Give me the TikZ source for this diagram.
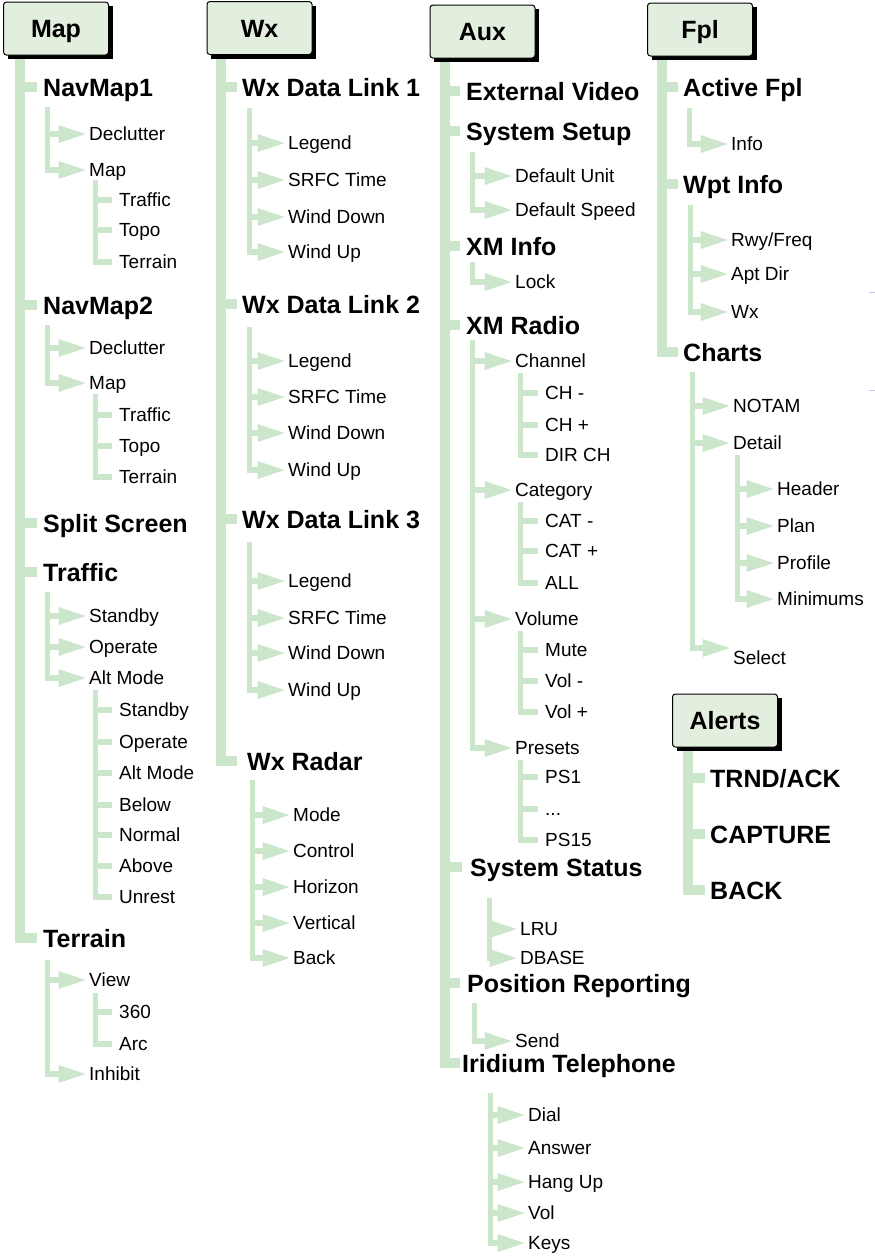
\documentclass[tikz,border=0pt]{standalone}
\usepackage{fontspec}
\setmainfont{Liberation Sans}
\definecolor{grn}{RGB}{204,230,204}
\definecolor{boxfill}{RGB}{226,238,222}
\definecolor{artc}{RGB}{185,205,230}
\tikzset{
  trunk/.style={draw=grn, line cap=butt, line width=10pt},
  spine/.style={draw=grn, line cap=butt, line width=5pt},
  barline/.style={draw=grn, line cap=butt, line width=6pt},
  mainlbl/.style={anchor=west, inner sep=0pt, text height=18pt, text depth=0pt, font=\bfseries\fontsize{25}{30}\selectfont},
  sublbl/.style={anchor=west, inner sep=0pt, text height=13.6pt, text depth=0pt, font=\fontsize{19}{23}\selectfont},
  hdrbox/.style={draw=black, line width=1pt, fill=boxfill, rounded corners=3pt, minimum width=105pt, minimum height=53pt, inner sep=0pt, text height=18pt, text depth=0pt, font=\bfseries\fontsize{25}{30}\selectfont},
}
% main item: name, trunk x, y, stub end x, text x, text
\newcommand\mitem[6]{%
  \node[mainlbl] (#1) at (#5,#3) {#6};
  \draw[trunk] ({#2-5},#3) -- ([xshift={#4-#5}]#1.west);}
% arrow item: name, spine x, y, text x, text
\newcommand\aitem[5]{%
  \node[sublbl] (#1) at (#4,#3) {#5};
  \draw[barline] ({#2-2.5},#3) -- ([xshift=-30pt]#1.west);
  \fill[grn] ([xshift=-3.5pt]#1.west) -- ++(-27,-9) -- ++(0,18) -- cycle;}
% stub item: name, spine x, y, text x, text
\newcommand\sitem[5]{%
  \node[sublbl] (#1) at (#4,#3) {#5};
  \draw[barline] ({#2-2.5},#3) -- ([xshift=-7pt]#1.west);}
% header box: name, cx, cy, text
\newcommand\hdr[4]{%
  \fill[black] ({#2-48.5},{#3-22.5}) rectangle ({#2+56.5},{#3+30.5});
  \node[hdrbox] (#1) at (#2,#3) {#4};}
\begin{document}
\begin{tikzpicture}[x=1pt,y=-1pt]
\useasboundingbox (0,0) rectangle (875,1256);
\fill[white] (0,0) rectangle (875,1256);

% ================= Map column =================
\mitem{mNav1}{20}{87}{37}{43}{NavMap1}
\aitem{m1Dec}{47.5}{134}{89}{Declutter}
\aitem{m1Map}{47.5}{170}{89}{Map}
\sitem{m1Tra}{95.5}{200}{119}{Traffic}
\sitem{m1Top}{95.5}{230}{119}{Topo}
\sitem{m1Ter}{95.5}{262}{119}{Terrain}
\draw[spine] (47.5,107) -- (47.5,0 |- m1Map.west);
\draw[spine] (95.5,180) -- (95.5,0 |- m1Ter.west);

\mitem{mNav2}{20}{305}{37}{43}{NavMap2}
\aitem{m2Dec}{47.5}{348}{89}{Declutter}
\aitem{m2Map}{47.5}{383}{89}{Map}
\sitem{m2Tra}{95.5}{415}{119}{Traffic}
\sitem{m2Top}{95.5}{446}{119}{Topo}
\sitem{m2Ter}{95.5}{477}{119}{Terrain}
\draw[spine] (47.5,325) -- (47.5,0 |- m2Map.west);
\draw[spine] (95.5,394) -- (95.5,0 |- m2Ter.west);

\mitem{mSplit}{20}{523}{37}{43}{Split Screen}
\mitem{mTraf}{20}{572}{37}{43}{Traffic}
\aitem{mtSb}{47.5}{616}{89}{Standby}
\aitem{mtOp}{47.5}{647}{89}{Operate}
\aitem{mtAlt}{47.5}{678}{89}{Alt Mode}
\draw[spine] (47.5,592) -- (47.5,0 |- mtAlt.west);
\sitem{maSb}{95.5}{710}{119}{Standby}
\sitem{maOp}{95.5}{742}{119}{Operate}
\sitem{maAlt}{95.5}{773}{119}{Alt Mode}
\sitem{maBel}{95.5}{805}{119}{Below}
\sitem{maNor}{95.5}{835}{119}{Normal}
\sitem{maAbo}{95.5}{866}{119}{Above}
\sitem{maUnr}{95.5}{897}{119}{Unrest}
\draw[spine] (95.5,690) -- (95.5,0 |- maUnr.west);

\mitem{mTerr}{20}{938}{37}{43}{Terrain}
\aitem{mtView}{47.5}{980}{89}{View}
\aitem{mtInh}{47.5}{1074}{89}{Inhibit}
\draw[spine] (47.5,960) -- (47.5,0 |- mtInh.west);
\sitem{mv360}{95.5}{1012}{119}{360}
\sitem{mvArc}{95.5}{1044}{119}{Arc}
\draw[spine] (95.5,993) -- (95.5,0 |- mvArc.west);

\coordinate (mapT) at (20,55);
\draw[trunk] (mapT) -- (mapT |- mTerr.west);

% ================= Wx column =================
\mitem{w1}{221}{87}{237}{242}{Wx Data Link 1}
\aitem{w1a}{249.5}{143}{288}{Legend}
\aitem{w1b}{249.5}{180}{288}{SRFC Time}
\aitem{w1c}{249.5}{217}{288}{Wind Down}
\aitem{w1d}{249.5}{252}{288}{Wind Up}
\draw[spine] (249.5,108) -- (249.5,0 |- w1d.west);

\mitem{w2}{221}{304}{237}{242}{Wx Data Link 2}
\aitem{w2a}{249.5}{361}{288}{Legend}
\aitem{w2b}{249.5}{397}{288}{SRFC Time}
\aitem{w2c}{249.5}{433}{288}{Wind Down}
\aitem{w2d}{249.5}{470}{288}{Wind Up}
\draw[spine] (249.5,327) -- (249.5,0 |- w2d.west);

\mitem{w3}{221}{519}{237}{242}{Wx Data Link 3}
\aitem{w3a}{249.5}{581}{288}{Legend}
\aitem{w3b}{249.5}{618}{288}{SRFC Time}
\aitem{w3c}{249.5}{653}{288}{Wind Down}
\aitem{w3d}{249.5}{690}{288}{Wind Up}
\draw[spine] (249.5,542) -- (249.5,0 |- w3d.west);

\mitem{wR}{221}{761}{237}{247}{Wx Radar}
\aitem{wRa}{252.5}{815}{293}{Mode}
\aitem{wRb}{252.5}{851}{293}{Control}
\aitem{wRc}{252.5}{887}{293}{Horizon}
\aitem{wRd}{252.5}{923}{293}{Vertical}
\aitem{wRe}{252.5}{958}{293}{Back}
\draw[spine] (252.5,780) -- (252.5,0 |- wRe.west);

\coordinate (wxT) at (221,54);
\draw[trunk] (wxT) -- (wxT |- wR.west);

% ================= Aux column =================
\mitem{aExt}{445}{91}{460}{466}{External Video}
\mitem{aSys}{445}{131}{460}{466}{System Setup}
\aitem{aSysU}{472.5}{176}{515}{Default Unit}
\aitem{aSysS}{472.5}{210}{515}{Default Speed}
\draw[spine] (472.5,152) -- (472.5,0 |- aSysS.west);
\mitem{aXMI}{445}{246}{460}{466}{XM Info}
\aitem{aLock}{472.5}{282}{515}{Lock}
\draw[spine] (472.5,262) -- (472.5,0 |- aLock.west);
\mitem{aXMR}{445}{325}{460}{466}{XM Radio}
\aitem{aCh}{472.5}{361}{515}{Channel}
\sitem{aCh1}{520.5}{393}{545}{CH -}
\sitem{aCh2}{520.5}{425}{545}{CH +}
\sitem{aCh3}{520.5}{455}{545}{DIR CH}
\draw[spine] (520.5,373) -- (520.5,0 |- aCh3.west);
\aitem{aCat}{472.5}{490}{515}{Category}
\sitem{aCa1}{520.5}{521}{545}{CAT -}
\sitem{aCa2}{520.5}{551}{545}{CAT +}
\sitem{aCa3}{520.5}{583}{545}{ALL}
\draw[spine] (520.5,502) -- (520.5,0 |- aCa3.west);
\aitem{aVol}{472.5}{619}{515}{Volume}
\sitem{aVo1}{520.5}{650}{545}{Mute}
\sitem{aVo2}{520.5}{681}{545}{Vol -}
\sitem{aVo3}{520.5}{712}{545}{Vol +}
\draw[spine] (520.5,631) -- (520.5,0 |- aVo3.west);
\aitem{aPre}{472.5}{748}{515}{Presets}
\sitem{aPs1}{520.5}{777}{545}{PS1}
\sitem{aPs2}{520.5}{809}{545}{...}
\sitem{aPs3}{520.5}{840}{545}{PS15}
\draw[spine] (520.5,760) -- (520.5,0 |- aPs3.west);
\draw[spine] (472.5,340) -- (472.5,0 |- aPre.west);

\mitem{aStat}{445}{867}{462}{470}{System Status}
\aitem{aLRU}{489.5}{929}{520}{LRU}
\aitem{aDB}{489.5}{958}{520}{DBASE}
\draw[spine] (489.5,898) -- (489.5,0 |- aDB.west);

\mitem{aPos}{445}{983}{460}{467}{Position Reporting}
\aitem{aSend}{474.5}{1041}{515}{Send}
\draw[spine] (474.5,1003) -- (474.5,0 |- aSend.west);

\mitem{aIri}{445}{1063}{460}{462}{Iridium Telephone}
\aitem{aDial}{490.5}{1115}{528}{Dial}
\aitem{aAns}{490.5}{1148}{528}{Answer}
\aitem{aHang}{490.5}{1182}{528}{Hang Up}
\aitem{aVl}{490.5}{1213}{528}{Vol}
\aitem{aKeys}{490.5}{1243}{528}{Keys}
\draw[spine] (490.5,1093) -- (490.5,0 |- aKeys.west);

\coordinate (auxT) at (445,58);
\draw[trunk] (auxT) -- (auxT |- aIri.west);

% ================= Fpl column =================
\mitem{fAct}{662}{87}{678}{683}{Active Fpl}
\aitem{fInfo}{689.5}{144}{731}{Info}
\draw[spine] (689.5,108) -- (689.5,0 |- fInfo.west);
\mitem{fWpt}{662}{184}{678}{683}{Wpt Info}
\aitem{fRwy}{690.5}{240}{731}{Rwy/Freq}
\aitem{fApt}{690.5}{274}{731}{Apt Dir}
\aitem{fWx}{690.5}{312}{731}{Wx}
\draw[spine] (690.5,205) -- (690.5,0 |- fWx.west);
\mitem{fCh}{662}{352}{678}{683}{Charts}
\aitem{fNot}{692.5}{406}{733}{NOTAM}
\aitem{fDet}{692.5}{443}{733}{Detail}
\aitem{fHdr}{737.5}{489}{777}{Header}
\aitem{fPlan}{737.5}{526}{777}{Plan}
\aitem{fProf}{737.5}{563}{777}{Profile}
\aitem{fMin}{737.5}{599}{777}{Minimums}
\draw[spine] (737.5,455) -- (737.5,0 |- fMin.west);
\node[sublbl] (fSel) at (733,658) {Select};
\coordinate (fSelA) at ([yshift=10pt]fSel.west);
\draw[barline] (690,648) -- ([xshift=-30pt]fSelA);
\fill[grn] ([xshift=-3.5pt]fSelA) -- ++(-27,-9) -- ++(0,18) -- cycle;
\draw[spine] (692.5,372) -- (692.5,0 |- fSelA);

\coordinate (fplT) at (662,56);
\draw[trunk] (fplT) -- (fplT |- fCh.west);

% ================= Alerts =================
\mitem{alT}{688}{778}{705}{710}{TRND/ACK}
\mitem{alC}{688}{834}{705}{710}{CAPTURE}
\mitem{alB}{688}{890}{705}{710}{BACK}
\coordinate (alT0) at (688,747);
\draw[trunk] (alT0) -- (alT0 |- alB.west);

% ================= header boxes =================
\hdr{hMap}{56}{28.5}{Map}
\hdr{hWx}{259.5}{28}{Wx}
\hdr{hAux}{482.5}{31.5}{Aux}
\hdr{hFpl}{700}{29.5}{Fpl}
\hdr{hAl}{725}{720.5}{Alerts}

% small marks at the right edge
\draw[artc, line width=1pt] (869,292) -- (875,292);
\draw[artc, line width=1pt] (869,390) -- (875,390);
\end{tikzpicture}
\end{document}
